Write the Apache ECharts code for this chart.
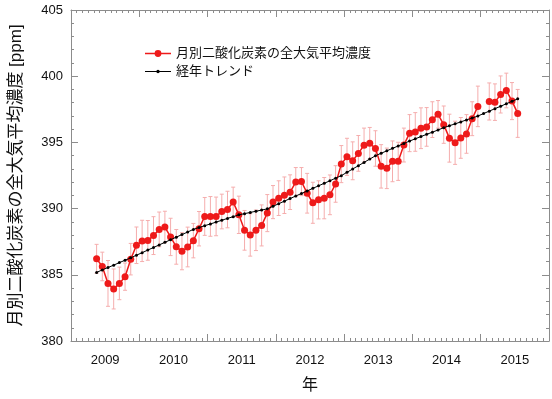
<!DOCTYPE html>
<html>
<head>
<meta charset="utf-8">
<script src="https://cdn.jsdelivr.net/npm/echarts@6/dist/echarts.min.js"></script>
<style>
	html, body { margin: 0; padding: 0; background: #fff; }
	#main { width: 552px; height: 399px; }
</style>
</head>
<body>
<div id="main"></div>
<script>
// months counted from Jan 2009 (0), data starts May 2009 (4)
var startMonth = 4;
var yearLabels = ['2009', '2010', '2011', '2012', '2013', '2014', '2015'];

// 月別二酸化炭素の全大気平均濃度 (ppm), null = no data
var co2 = [
	386.21, 385.63, 384.35, 383.93, 384.35, 384.86, 386.18, 387.23,
	387.56, 387.60, 387.96, 388.43, 388.61, 387.86, 387.11, 386.78,
	387.10, 387.58, 388.48, 389.41, 389.41, 389.41, 389.78, 389.93,
	390.49, 389.53, 388.36, 388.01, 388.36, 388.73, 389.66, 390.49,
	390.79, 391.01, 391.24, 392.00, 392.04, 391.16, 390.44, 390.66,
	390.79, 391.04, 391.86, 393.36, 393.91, 393.61, 394.17, 394.79,
	394.94, 394.54, 393.19, 393.04, 393.57, 393.57, 394.80, 395.70,
	395.79, 396.07, 396.17, 396.72, 397.12, 396.34, 395.32, 394.97,
	395.34, 395.64, 396.79, 397.72, null, 398.09, 398.04, 398.62,
	398.92, 398.12, 397.19
];

// error bar half width (ppm)
var err = [
	1.09, 1.08, 1.73, 1.51, 1.23, 1.03, 1.19, 1.38,
	1.56, 1.50, 1.43, 1.31, 1.19, 1.41, 1.31, 1.40,
	1.50, 1.30, 1.30, 1.43, 1.50, 1.46, 1.31, 1.38,
	1.13, 1.41, 1.50, 1.60, 1.53, 1.55, 1.40, 1.25,
	1.31, 1.38, 1.31, 1.10, 1.06, 1.50, 1.55, 1.44,
	1.56, 1.50, 1.38, 1.40, 1.40, 1.43, 1.35, 1.29,
	1.19, 1.34, 1.64, 1.53, 1.54, 1.44, 1.28, 1.40,
	1.46, 1.54, 1.46, 1.35, 1.04, 1.41, 1.81, 1.63,
	1.54, 1.46, 1.28, 1.53, null, 1.40, 1.38, 1.40,
	1.31, 1.40, 1.81
];

// 経年トレンド (ppm)
var trend = [
	385.18, 385.37, 385.55, 385.73, 385.92, 386.10, 386.28, 386.48,
	386.67, 386.87, 387.06, 387.26, 387.45, 387.65, 387.84, 388.04,
	388.23, 388.43, 388.57, 388.71, 388.84, 388.98, 389.12, 389.26,
	389.39, 389.53, 389.62, 389.71, 389.80, 389.89, 389.98, 390.17,
	390.37, 390.56, 390.76, 390.95, 391.14, 391.33, 391.53, 391.72,
	391.91, 392.10, 392.30, 392.49, 392.74, 392.99, 393.24, 393.49,
	393.74, 393.99, 394.18, 394.36, 394.55, 394.73, 394.92, 395.10,
	395.27, 395.44, 395.61, 395.77, 395.94, 396.11, 396.26, 396.40,
	396.55, 396.70, 396.84, 396.99, 397.18, 397.36, 397.55, 397.73,
	397.92, 398.10, 398.29
];

var font = "'Liberation Sans', 'Noto Sans CJK JP', sans-serif";
var frameColor = '#8c8c8c';
var red = '#ee1a1a';

var co2Data = [], trendData = [], errData = [];
for (var i = 0; i < co2.length; i++) {
	var x = startMonth + i + 0.5;
	co2Data.push([x, co2[i]]);
	trendData.push([x, trend[i]]);
	if (co2[i] != null) {
		errData.push([x, co2[i] - err[i], co2[i] + err[i]]);
	}
}

var yearTicks = [];
for (var k = 0; k < yearLabels.length; k++) {
	yearTicks.push(k * 12 + 6);
}

function frameAxis(pos, showLabel) {
	return {
		type: 'value',
		position: pos,
		min: 0,
		max: 84,
		interval: 12,
		axisLine: { show: true, onZero: false, lineStyle: { color: frameColor, width: 1 } },
		axisTick: { show: true, inside: true, length: 7, lineStyle: { color: frameColor } },
		minorTick: { show: true, splitNumber: 12, length: 3, lineStyle: { color: frameColor } },
		splitLine: { show: false },
		axisLabel: showLabel ? {
			show: true,
			customValues: yearTicks,
			margin: 13,
			color: '#111',
			fontSize: 13,
			fontFamily: font,
			formatter: function(v) {
				return yearLabels[Math.round((v - 6) / 12)];
			}
		} : { show: false }
	};
}

function valueAxis(pos, showLabel) {
	return {
		type: 'value',
		position: pos,
		min: 380,
		max: 405,
		interval: 5,
		axisLine: { show: true, onZero: false, lineStyle: { color: frameColor, width: 1 } },
		axisTick: { show: true, inside: true, length: 7, lineStyle: { color: frameColor } },
		minorTick: { show: true, splitNumber: 5, length: 3, lineStyle: { color: frameColor } },
		splitLine: { show: false },
		axisLabel: { show: showLabel, margin: 8, color: '#111', fontSize: 13, fontFamily: font }
	};
}

var xBottom = frameAxis('bottom', true);
xBottom.name = '年';
xBottom.nameLocation = 'middle';
xBottom.nameGap = 37;
xBottom.nameTextStyle = { fontSize: 16, color: '#111', fontFamily: font };

var yLeft = valueAxis('left', true);
yLeft.name = '月別二酸化炭素の全大気平均濃度 [ppm]';
yLeft.nameLocation = 'middle';
yLeft.nameGap = 46;
yLeft.nameTextStyle = { fontSize: 17, color: '#111', fontFamily: font };

// legend icons: line with a dot, tiny corner squares keep the box 26x12
var box = 'path://M0,0h0.01v0.01h-0.01z M25.99,11.99h0.01v0.01h-0.01z';
var co2Icon = box + ' M0,5.2h26v1.6h-26z M9.6,6a3.4,3.4 0 1,1 6.8,0a3.4,3.4 0 1,1 -6.8,0z';
var trendIcon = box + ' M0,5.5h26v1h-26z M11.3,6a1.7,1.7 0 1,1 3.4,0a1.7,1.7 0 1,1 -3.4,0z';

var option = {
	animation: false,
	backgroundColor: '#fff',
	textStyle: { fontFamily: font },
	grid: { left: 70, right: 3, top: 10, bottom: 56 },
	legend: {
		orient: 'vertical',
		left: 140,
		top: 42,
		itemWidth: 26,
		itemHeight: 12,
		itemGap: 5,
		textStyle: { fontSize: 13, color: '#111', fontFamily: font },
		data: [
			{ name: '月別二酸化炭素の全大気平均濃度', icon: co2Icon },
			{ name: '経年トレンド', icon: trendIcon }
		]
	},
	xAxis: [xBottom, frameAxis('top', false)],
	yAxis: [yLeft, valueAxis('right', false)],
	series: [{
		name: 'err',
		type: 'custom',
		z: 1,
		data: errData,
		renderItem: function(params, api) {
			var x = api.value(0);
			var lo = api.coord([x, api.value(1)]);
			var hi = api.coord([x, api.value(2)]);
			var w = 2;
			var st = { stroke: '#f5adad', lineWidth: 1 };
			return {
				type: 'group',
				children: [
					{ type: 'line', shape: { x1: lo[0], y1: lo[1], x2: hi[0], y2: hi[1] }, style: st },
					{ type: 'line', shape: { x1: lo[0] - w, y1: lo[1], x2: lo[0] + w, y2: lo[1] }, style: st },
					{ type: 'line', shape: { x1: hi[0] - w, y1: hi[1], x2: hi[0] + w, y2: hi[1] }, style: st }
				]
			};
		}
	}, {
		name: '月別二酸化炭素の全大気平均濃度',
		type: 'line',
		z: 3,
		data: co2Data,
		connectNulls: false,
		symbol: 'circle',
		symbolSize: 7,
		itemStyle: { color: red },
		lineStyle: { color: red, width: 1.5 }
	}, {
		name: '経年トレンド',
		type: 'line',
		z: 4,
		data: trendData,
		symbol: 'circle',
		symbolSize: 3,
		itemStyle: { color: '#000' },
		lineStyle: { color: '#000', width: 1 }
	}]
};

var chart = echarts.init(document.getElementById('main'));
chart.setOption(option);
</script>
</body>
</html>
